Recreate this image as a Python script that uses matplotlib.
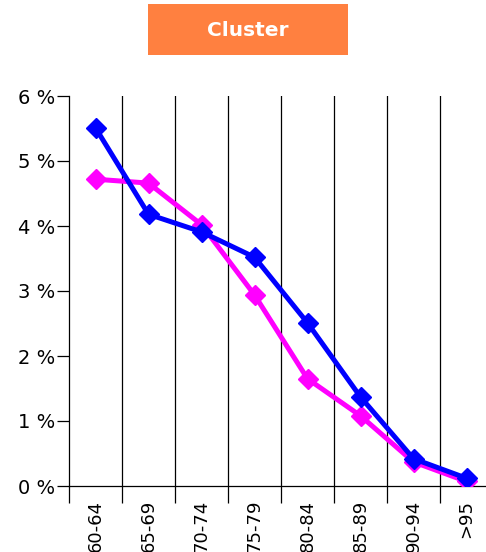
import numpy as np
import matplotlib
matplotlib.use('Agg')
import matplotlib.pyplot as plt
from matplotlib.patches import Rectangle

age_groups = ['60-64', '65-69', '70-74', '75-79', '80-84', '85-89', '90-94', '>95']
blue_share = [5.51, 4.18, 3.91, 3.52, 2.51, 1.37, 0.42, 0.12]
magenta_share = [4.72, 4.66, 4.02, 2.94, 1.65, 1.08, 0.37, 0.07]
y_ticks = [0, 1, 2, 3, 4, 5, 6]

fig = plt.figure(figsize=(4.86, 5.52), dpi=100)
ax = fig.add_axes([69/486, 1 - 486/552, (493 - 69)/486, (486 - 96)/552])

xpos = np.arange(len(age_groups))
ax.plot(xpos, magenta_share, color='#ff00ff', lw=3.6, marker='D', ms=10,
        solid_joinstyle='round', zorder=3)
ax.plot(xpos, blue_share, color='#0000ff', lw=3.6, marker='D', ms=10,
        solid_joinstyle='round', zorder=4)

ax.set_xlim(-0.5, len(age_groups) - 0.5)
ax.set_ylim(0, 6)

# category separators
for b in np.arange(0.5, len(age_groups) - 0.5, 1.0):
    ax.axvline(b, color='black', lw=0.9, zorder=1)

ax.set_xticks(xpos)
ax.set_xticklabels(age_groups, rotation=90, fontsize=13)
ax.tick_params(axis='x', which='major', length=0, pad=10)
ax.set_xticks(np.arange(-0.5, len(age_groups), 1.0), minor=True)
ax.tick_params(axis='x', which='minor', length=12, width=0.9, direction='out')

ax.set_yticks(y_ticks)
ax.set_yticklabels(['%d %%' % v for v in y_ticks], fontsize=14)
ax.tick_params(axis='y', length=9, width=0.9, pad=1)

for s in ['top', 'right']:
    ax.spines[s].set_visible(False)
for s in ['left', 'bottom']:
    ax.spines[s].set_linewidth(0.9)

# title box
fig.patches.append(Rectangle((148/486, 1 - 55/552), 200/486, 51/552,
                             transform=fig.transFigure, facecolor='#ff8040',
                             edgecolor='none'))
fig.text(248/486, 1 - 30/552, 'Cluster', color='white', fontsize=14.5,
         fontweight='bold', ha='center', va='center')

fig.savefig('out.png', dpi=100)
